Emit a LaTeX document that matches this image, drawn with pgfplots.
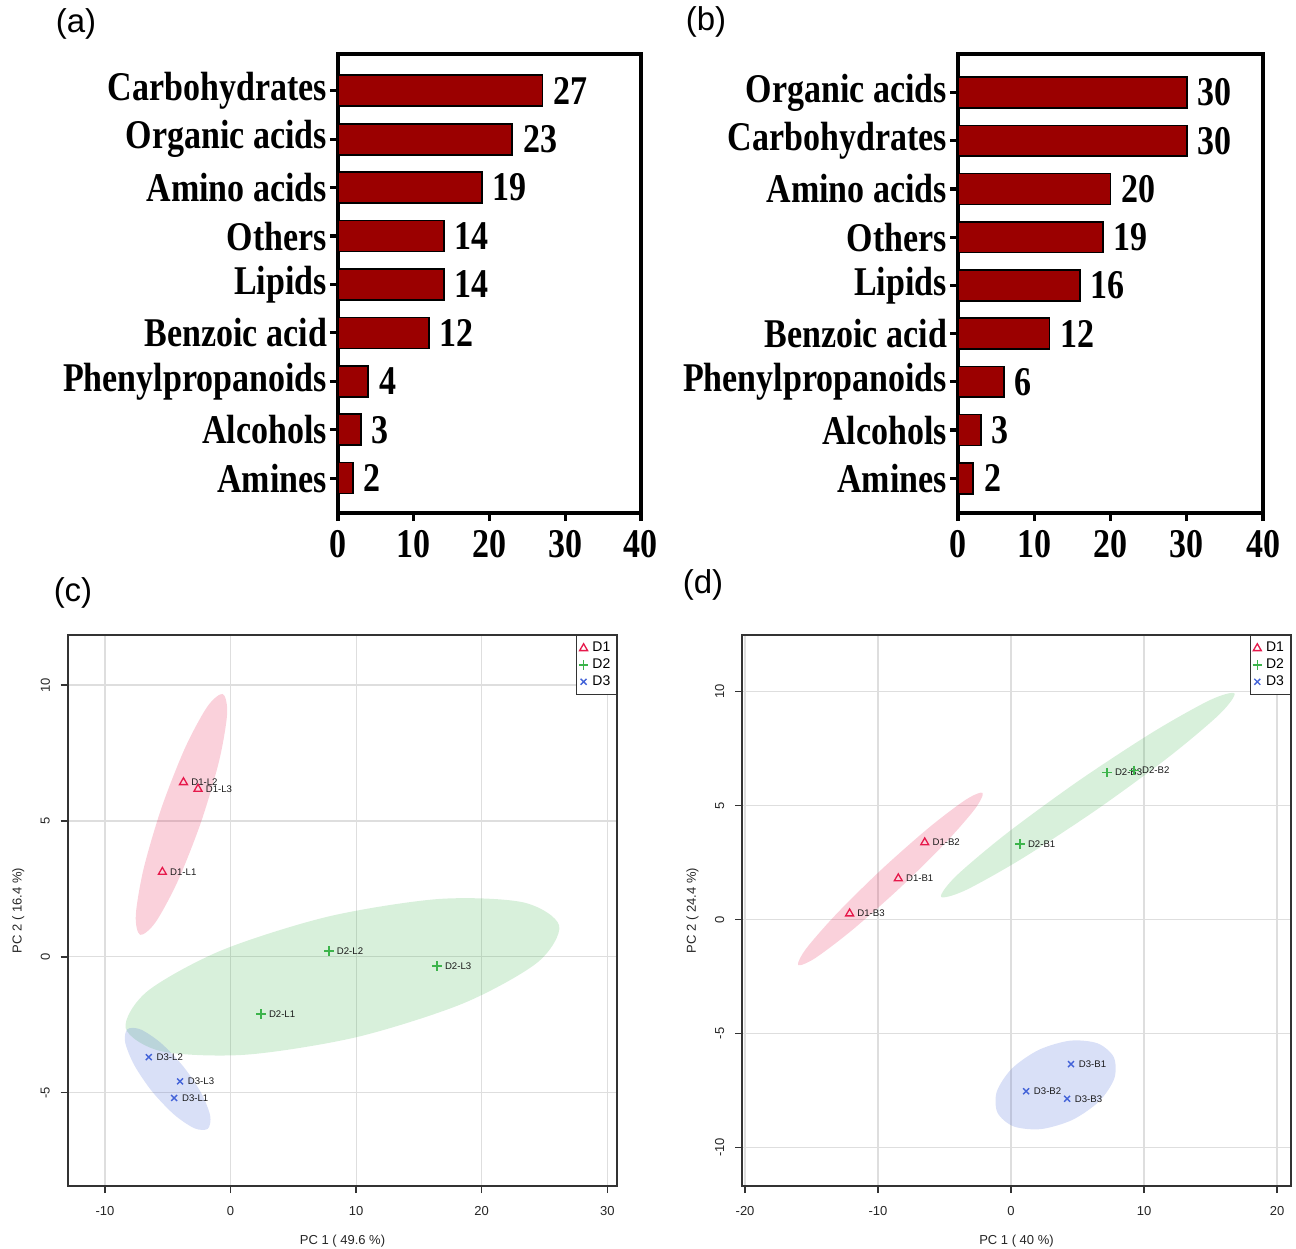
\documentclass[border=0pt]{standalone}
\usepackage{fontspec}
\setmainfont{Liberation Serif}
\newfontfamily\arial{Liberation Sans}
\usepackage{graphicx}
\usepackage{pgfplots}
\pgfplotsset{compat=1.18}
\definecolor{barred}{RGB}{155,0,0}
\definecolor{dA}{RGB}{230,25,75}
\definecolor{dB}{RGB}{60,180,75}
\definecolor{dC}{RGB}{67,99,216}
\newcommand\lab[1]{\scalebox{1}[1.2]{#1}}
\newcommand\bigfont{\bfseries\fontsize{17}{17}\selectfont}
\newcommand\pcafont{\arial\fontsize{6.5}{7}\selectfont}
\newcommand\legfont{\arial\fontsize{7}{7.5}\selectfont}
\newcommand\ptfont{\arial\fontsize{4.8}{5}\selectfont}
\pgfplotsset{
  barax/.style={
    scale only axis, anchor=south west,
    xmin=0, xmax=40, ymin=-0.72,
    xbar, bar width=0.64,
    xtick={0,10,20,30,40},
    xticklabels={\lab{0},\lab{10},\lab{20},\lab{30},\lab{40}},
    ytick={0,1,2,3,4,5,6,7,8},
    axis line style={line width=1.8pt, black},
    tick style={line width=1.6pt, black},
    tick align=outside, major tick length=4pt,
    xtick pos=bottom, ytick pos=left,
    tick label style={font=\bigfont},
    xticklabel style={anchor=center, yshift=-11.5pt},
    yticklabel style={anchor=east, xshift=2pt},
    /pgf/number format/assume math mode=true,
    point meta=x,
    nodes near coords={\lab{\pgfmathprintnumber{\pgfplotspointmeta}}},
    every node near coord/.append style={font=\bigfont, text=black, anchor=west, inner sep=0pt, xshift=5pt},
  },
  pcaax/.style={
    scale only axis, anchor=south west,
    axis line style={line width=0.9pt, black!80},
    grid=major, major grid style={line width=0.6pt, black!13},
    tick align=outside, major tick length=3.5pt,
    tick style={line width=0.7pt, black!80},
    xtick pos=bottom, ytick pos=left,
    tick label style={font=\pcafont, text=black!85},
    xticklabel style={anchor=center, yshift=-9pt},
    yticklabel style={anchor=center, xshift=-7.7pt, rotate=90},
    label style={font=\pcafont, text=black!85},
    xlabel style={at={(axis description cs:0.5,-0.1)}, anchor=center},
    ylabel style={at={(axis description cs:-0.09,0.5)}, anchor=center},
    legend style={at={(1,1)}, anchor=north east, draw=black!80, line width=0.6pt,
      font=\legfont, inner sep=1.2pt, row sep=-2pt, fill=white},
    legend cell align=left,
    legend image code/.code={\draw[#1] plot coordinates {(0.12cm,0cm)};},
  },
  ptlab/.style={nodes near coords, point meta=explicit symbolic,
    every node near coord/.append style={anchor=west, font=\ptfont, text=black!90, inner sep=0pt, xshift=3.6pt}},
  ellA/.style={draw=none, fill=dA, fill opacity=0.2, smooth cycle, no markers, forget plot},
  ellB/.style={draw=none, fill=dB, fill opacity=0.2, smooth cycle, no markers, forget plot},
  ellC/.style={draw=none, fill=dC, fill opacity=0.2, smooth cycle, no markers, forget plot},
  mA/.style={only marks, mark=triangle, mark size=2.3pt, color=dA, line width=0.65pt},
  mB/.style={only marks, mark=+, mark size=2.4pt, color=dB, line width=0.75pt},
  mC/.style={only marks, mark=x, mark size=2.1pt, color=dC, line width=0.7pt},
}
\begin{document}
\begin{tikzpicture}
\useasboundingbox (0pt,0pt) rectangle (648pt,-624pt);

% ---------- (a)
\begin{axis}[barax, at={(169pt,-256.5pt)}, width=151.5pt, height=229.5pt, ymax=8.76,
  yticklabels={\lab{Amines},\lab{Alcohols},\lab{Phenylpropanoids},\lab{Benzoic acid},\lab{Lipids},\lab{Others},\lab{Amino acids},\lab{Organic acids},\lab{Carbohydrates}}]
\addplot[fill=barred, draw=black, line width=0.8pt] coordinates {
(2,0) (3,1) (4,2) (12,3) (14,4) (14,5) (19,6) (23,7) (27,8)};
\end{axis}
\node[font=\arial\fontsize{16.5}{17}\selectfont] at (38pt,-12pt) {(a)};

% ---------- (b)
\begin{axis}[barax, at={(479pt,-256.5pt)}, width=152.5pt, height=229.5pt, ymax=8.8,
  yticklabels={\lab{Amines},\lab{Alcohols},\lab{Phenylpropanoids},\lab{Benzoic acid},\lab{Lipids},\lab{Others},\lab{Amino acids},\lab{Carbohydrates},\lab{Organic acids}}]
\addplot[fill=barred, draw=black, line width=0.8pt] coordinates {
(2,0) (3,1) (6,2) (12,3) (16,4) (19,5) (20,6) (30,7) (30,8)};
\end{axis}
\node[font=\arial\fontsize{16.5}{17}\selectfont] at (353pt,-11pt) {(b)};

% ---------- (c)
\begin{axis}[pcaax, at={(33.85pt,-593pt)}, width=274.8pt, height=275.5pt,
  xmin=-12.97, xmax=30.8, ymin=-8.43, ymax=11.84,
  xtick={-10,0,10,20,30}, xticklabels={-10,0,10,20,30},
  ytick={-5,0,5,10}, yticklabels={-5,0,5,10},
  xlabel={PC 1 ( 49.6 \%)}, ylabel={PC 2 ( 16.4 \%)}]
\addplot[ellA] coordinates {(-0.624,9.670) (-0.272,8.951) (-0.896,7.238) (-2.327,4.990) (-4.182,2.808) (-5.964,1.279) (-7.196,0.810) (-7.548,1.529) (-6.924,3.242) (-5.493,5.490) (-3.638,7.672) (-1.856,9.201)};
\addplot[ellB] coordinates {(26.170,1.151) (23.288,2.007) (16.554,2.128) (7.772,1.482) (-0.706,0.242) (-6.606,-1.259) (-8.350,-2.621) (-5.468,-3.477) (1.266,-3.598) (10.048,-2.952) (18.526,-1.712) (24.426,-0.211)};
\addplot[ellC] coordinates {(-8.208,-2.656) (-8.399,-3.133) (-7.682,-3.973) (-6.249,-4.952) (-4.484,-5.807) (-2.861,-6.309) (-1.812,-6.324) (-1.621,-5.847) (-2.338,-5.007) (-3.771,-4.028) (-5.536,-3.173) (-7.159,-2.671)};
\addplot[mA, ptlab] table[meta=lab] {
x y lab
-3.75 6.42 D1-L2
-2.59 6.18 D1-L3
-5.43 3.12 D1-L1
};
\addplot[mB, ptlab] table[meta=lab] {
x y lab
7.84 0.21 D2-L2
16.45 -0.33 D2-L3
2.43 -2.10 D2-L1
};
\addplot[mC, ptlab] table[meta=lab] {
x y lab
-6.51 -3.69 D3-L2
-4.02 -4.58 D3-L3
-4.49 -5.19 D3-L1
};
\legend{D1,D2,D3}
\end{axis}
\node[font=\arial\fontsize{16.5}{17}\selectfont] at (36.5pt,-296.5pt) {(c)};

% ---------- (d)
\begin{axis}[pcaax, at={(371pt,-593pt)}, width=274.5pt, height=275.5pt,
  xmin=-20.23, xmax=21.05, ymin=-11.70, ymax=12.49,
  xtick={-20,-10,0,10,20}, xticklabels={-20,-10,0,10,20},
  ytick={-10,-5,0,5,10}, yticklabels={-10,-5,0,5,10},
  xlabel={PC 1 ( 40 \%)}, ylabel={PC 2 ( 24.4 \%)}]
\addplot[ellA] coordinates {(-2.132,5.560) (-3.396,5.262) (-6.179,4.031) (-9.738,2.197) (-13.117,0.251) (-15.412,-1.284) (-16.008,-2.000) (-14.744,-1.702) (-11.961,-0.471) (-8.402,1.363) (-5.023,3.309) (-2.728,4.844)};
\addplot[ellB] coordinates {(16.800,9.924) (14.957,9.633) (10.654,8.223) (5.041,6.073) (-0.376,3.759) (-4.147,1.901) (-5.260,0.996) (-3.417,1.287) (0.886,2.697) (6.499,4.847) (11.916,7.161) (15.687,9.019)};
\addplot[ellC] coordinates {(7.724,-6.043) (6.509,-5.437) (4.448,-5.319) (2.092,-5.722) (0.074,-6.537) (-1.067,-7.545) (-1.024,-8.477) (0.191,-9.083) (2.252,-9.201) (4.608,-8.798) (6.626,-7.983) (7.767,-6.975)};
\addplot[mA, ptlab] table[meta=lab] {
x y lab
-6.49 3.38 D1-B2
-8.48 1.80 D1-B1
-12.14 0.26 D1-B3
};
\addplot[mB, ptlab] table[meta=lab] {
x y lab
7.22 6.45 D2-B3
9.26 6.55 D2-B2
0.68 3.31 D2-B1
};
\addplot[mC, ptlab] table[meta=lab] {
x y lab
4.51 -6.35 D3-B1
1.13 -7.54 D3-B2
4.21 -7.87 D3-B3
};
\legend{D1,D2,D3}
\end{axis}
\node[font=\arial\fontsize{16.5}{17}\selectfont] at (351.5pt,-292.5pt) {(d)};
\end{tikzpicture}
\end{document}
